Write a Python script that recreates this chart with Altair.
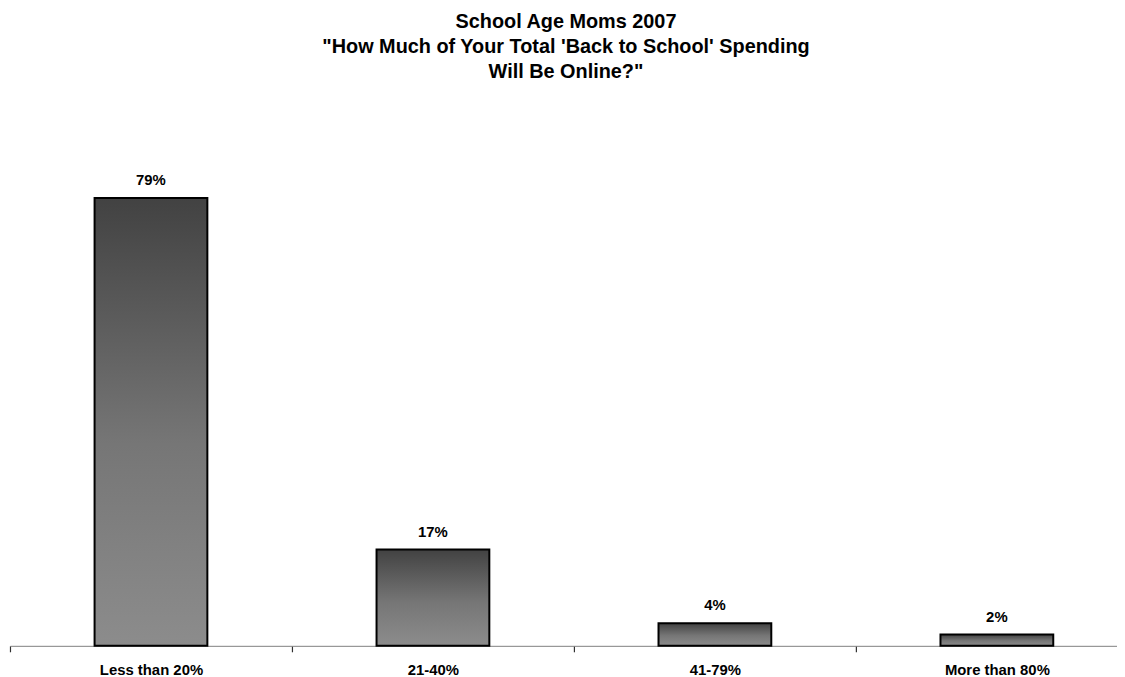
import altair as alt
import pandas as pd

categories = ["Less than 20%", "21-40%", "41-79%", "More than 80%"]
values = [79, 17, 4, 2]
labels = ["79%", "17%", "4%", "2%"]

df = pd.DataFrame({"cat": categories, "val": values, "lab": labels})

FONT = "Liberation Sans"

W = 1136
STEP = W / 4

x = alt.X(
    "cat:N",
    sort=categories,
    title=None,
    scale=alt.Scale(paddingInner=0.6, paddingOuter=0.3),
    axis=alt.Axis(
        labelAngle=0,
        labelFont=FONT,
        labelFontSize=15,
        labelFontWeight="bold",
        labelColor="black",
        labelPadding=11,
        labelOffset=STEP / 2,
        ticks=True,
        tickOffset=-STEP / 2,
        tickSize=6,
        tickWidth=1.2,
        tickColor="#303030",
        tickOpacity=1,
        domainColor="#808080",
        domainWidth=1,
    ),
)
y = alt.Y("val:Q", scale=alt.Scale(domain=[0, 100]), axis=None)

grad = alt.Gradient(
    gradient="linear",
    x1=0, y1=0, x2=0, y2=1,
    stops=[
        alt.GradientStop(color="#424242", offset=0),
        alt.GradientStop(color="#767676", offset=0.55),
        alt.GradientStop(color="#8c8c8c", offset=1),
    ],
)

bars = alt.Chart(df).mark_bar(
    color=grad, stroke="black", strokeWidth=2
).encode(x=x, y=y)

text = alt.Chart(df).mark_text(
    font=FONT, fontSize=15, fontWeight="bold", color="black",
    baseline="alphabetic", dy=-13
).encode(x=alt.X("cat:N", sort=categories), y="val:Q", text="lab:N")

chart = (
    alt.layer(bars, text)
    .properties(
        width=W,
        height=571,
        autosize=alt.AutoSizeParams(type="none"),
        padding={"left": 2, "right": 1117 - 2 - W, "top": 69, "bottom": 32},
        title=alt.TitleParams(
            text=[
                "School Age Moms 2007",
                "\"How Much of Your Total 'Back to School' Spending",
                "Will Be Online?\"",
            ],
            font=FONT,
            fontSize=20,
            fontWeight="bold",
            color="black",
            lineHeight=25,
            anchor="middle",
            frame="group",
            offset=0,
            dx=562 - (2 + W / 2),
            dy=3,
        ),
    )
    .configure_view(stroke=None)
)

chart.save("out.html", embed_options={"renderer": "svg", "actions": False})
